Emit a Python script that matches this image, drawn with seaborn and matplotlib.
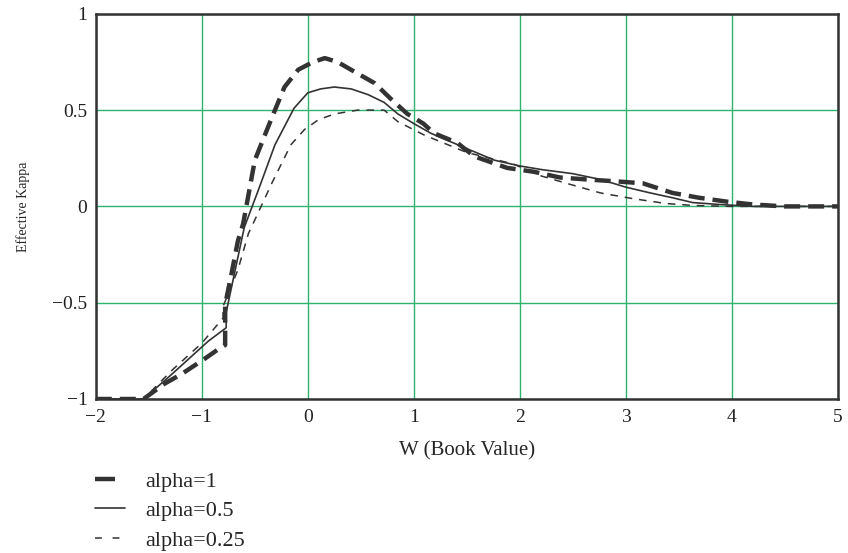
import numpy as np
import pandas as pd
import matplotlib
matplotlib.use("Agg")
import matplotlib.pyplot as plt
from matplotlib.lines import Line2D
import seaborn as sns

# === Data ===
w_a1 = [-2.0, -1.55, -1.35, -1.19, -0.97, -0.84, -0.78, -0.78, -0.72, -0.66, -0.61, -0.50,
        -0.34, -0.22, -0.09, 0.05, 0.16, 0.28, 0.47, 0.63, 0.78, 0.94, 1.09, 1.19, 1.41,
        1.57, 1.88, 2.13, 2.38, 2.63, 2.91, 3.16, 3.44, 3.69, 3.95, 4.2, 4.5, 5.0]
k_a1 = [-1.0, -1.0, -0.92, -0.87, -0.79, -0.74, -0.72, -0.51, -0.35, -0.18, -0.09, 0.24,
        0.46, 0.62, 0.71, 0.75, 0.77, 0.75, 0.69, 0.64, 0.56, 0.48, 0.43, 0.38, 0.33,
        0.26, 0.20, 0.18, 0.15, 0.14, 0.13, 0.12, 0.07, 0.045, 0.025, 0.01, 0.0, 0.0]

w_a05 = [-2.0, -1.55, -1.28, -1.12, -0.94, -0.77, -0.77, -0.72, -0.60, -0.47, -0.31, -0.13,
         0.0, 0.12, 0.25, 0.41, 0.57, 0.72, 0.85, 1.0, 1.16, 1.5, 1.76, 2.0, 2.22, 2.5,
         2.76, 3.0, 3.23, 3.44, 3.63, 3.88, 4.2, 5.0]
k_a05 = [-1.0, -1.0, -0.87, -0.79, -0.70, -0.63, -0.55, -0.42, -0.11, 0.08, 0.32, 0.51,
         0.59, 0.61, 0.62, 0.61, 0.58, 0.54, 0.48, 0.43, 0.38, 0.30, 0.24, 0.21, 0.19, 0.17,
         0.14, 0.10, 0.07, 0.045, 0.02, 0.01, 0.0, 0.0]

w_a025 = [-2.0, -1.55, -1.28, -1.12, -1.0, -0.8, -0.8, -0.66, -0.56, -0.5, -0.34, -0.16,
          -0.03, 0.1, 0.25, 0.47, 0.72, 0.85, 1.1, 1.5, 1.94, 2.19, 2.44, 2.76, 3.07,
          3.38, 3.63, 4.0, 5.0]
k_a025 = [-1.0, -1.0, -0.85, -0.77, -0.71, -0.58, -0.52, -0.33, -0.14, -0.07, 0.12, 0.32,
          0.40, 0.45, 0.48, 0.50, 0.50, 0.44, 0.37, 0.28, 0.22, 0.16, 0.12, 0.07, 0.04,
          0.015, 0.005, 0.0, 0.0]

labels = ["alpha=1", "alpha=0.5", "alpha=0.25"]
x_ticks = [-2, -1, 0, 1, 2, 3, 4, 5]
y_ticks = [-1, -0.5, 0, 0.5, 1]
y_ticklabels = ["\u22121", "\u22120.5", "0", "0.5", "1"]

# === Plot ===
sns.set_style("white")
plt.rcParams['font.family'] = ['Liberation Serif', 'DejaVu Serif']

fig = plt.figure(figsize=(8.48, 5.53), dpi=100)
ax = fig.add_axes([0.113, 0.2785, 0.875, 0.6965])

ink = "#333333"
sns.lineplot(x=w_a1, y=k_a1, ax=ax, color=ink, lw=3.2, sort=False, estimator=None)
sns.lineplot(x=w_a05, y=k_a05, ax=ax, color=ink, lw=1.2, sort=False, estimator=None)
sns.lineplot(x=w_a025, y=k_a025, ax=ax, color=ink, lw=1.1, sort=False, estimator=None)
ax.lines[0].set_dashes([3.6, 1.8])
ax.lines[2].set_dashes([5, 4.5])

ax.set_xlim(-2, 5)
ax.set_ylim(-1, 1)
ax.set_xticks(x_ticks)
ax.set_yticks(y_ticks)
ax.set_xticklabels([str(t).replace("-", "\u2212") for t in x_ticks], fontsize=14)
ax.set_yticklabels(y_ticklabels, fontsize=14)
ax.grid(True, color="#2db36b", lw=1.0)
ax.set_axisbelow(True)
for s in ax.spines.values():
    s.set_color(ink)
    s.set_linewidth(1.8)
ax.tick_params(axis="x", length=0, pad=7, colors="#222222")
ax.tick_params(axis="y", length=0, pad=6, colors="#222222")

ax.set_xlabel("W (Book Value)", fontsize=15, labelpad=11)
ax.set_ylabel("Effective Kappa", fontsize=10, labelpad=16)

# legend handles below the plot, drawn short like the original
handles = [
    Line2D([], [], color=ink, lw=3.2, dashes=[4.5, 10]),
    Line2D([], [], color=ink, lw=1.2),
    Line2D([], [], color=ink, lw=1.1, dashes=[4.5, 7]),
]
fig.legend(handles, labels, loc="upper left", bbox_to_anchor=(0.112, 0.148), frameon=False,
           fontsize=16, handlelength=1.36, handletextpad=0.9, labelspacing=0.4,
           borderaxespad=0, borderpad=0)

fig.savefig("out.png", dpi=100)
